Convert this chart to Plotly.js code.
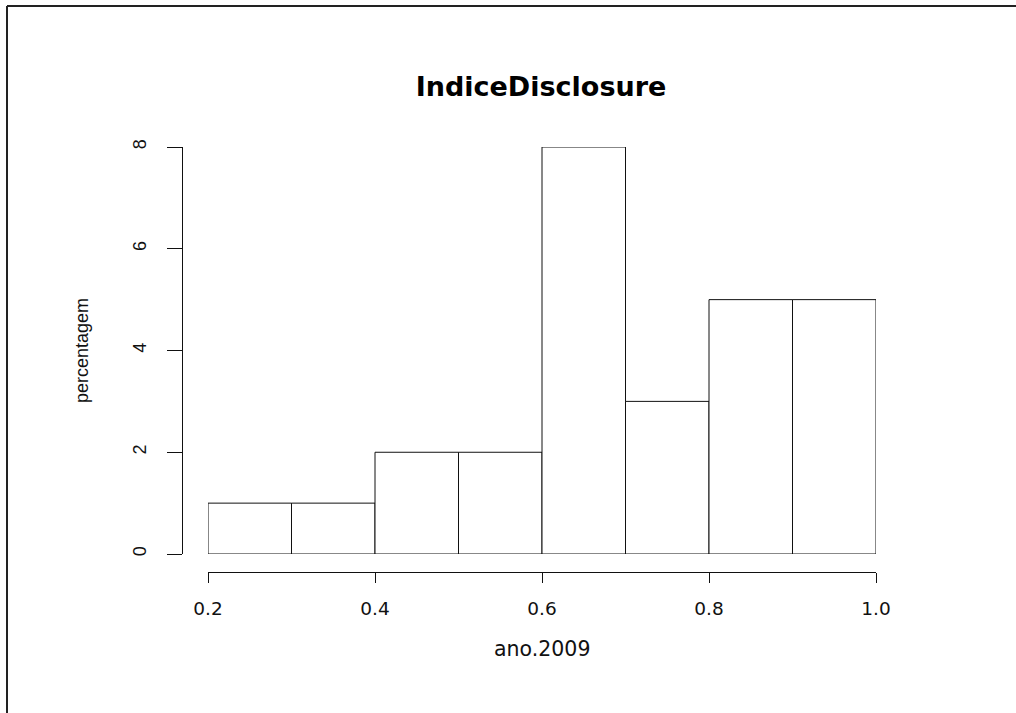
<!DOCTYPE html>
<html>
<head>
<meta charset="utf-8">
<script src="https://cdn.plot.ly/plotly-3.0.1.min.js"></script>
<style>html,body{margin:0;padding:0;background:#fff;}#chart{width:1016px;height:713px;}</style>
</head>
<body>
<div id="chart"></div>
<script>
// Histogram data
var binEdges = [0.2, 0.3, 0.4, 0.5, 0.6, 0.7, 0.8, 0.9, 1.0];
var counts = [1, 1, 2, 2, 8, 3, 5, 5];
var xTickVals = [0.2, 0.4, 0.6, 0.8, 1.0];
var xTickText = ["0.2", "0.4", "0.6", "0.8", "1.0"];
var yTickVals = [0, 2, 4, 6, 8];
var yTickText = ["0", "2", "4", "6", "8"];

var W = 1016, H = 713;
var lefts = binEdges.slice(0, -1);
var widths = lefts.map(function (e, i) { return binEdges[i + 1] - e; });

var trace = {
  type: 'bar',
  x: lefts,
  y: counts,
  width: widths,
  offset: 0,
  marker: { color: '#ffffff', line: { color: '#111', width: 1 } },
  hoverinfo: 'x+y'
};

var tickFontH = { family: 'DejaVu Sans, sans-serif', size: 18.5, color: '#111' };
var tickFontV = { family: 'Liberation Sans, Arial, sans-serif', size: 18, color: '#111' };

var layout = {
  width: W, height: H,
  margin: { l: 0, r: 0, t: 0, b: 0, pad: 0 },
  paper_bgcolor: '#fff', plot_bgcolor: 'rgba(0,0,0,0)',
  showlegend: false,
  bargap: 0,
  title: {
    text: 'IndiceDisclosure',
    font: { family: 'DejaVu Sans, sans-serif', size: 27, color: '#000', weight: 'bold' },
    x: 541 / W, xanchor: 'center', xref: 'paper',
    y: (H - 87) / H, yanchor: 'middle', yref: 'container'
  },
  xaxis: {
    domain: [208 / W, 876 / W],
    range: [0.2, 1.0],
    anchor: 'free', position: (H - 572) / H,
    showgrid: false, zeroline: false,
    showline: true, linecolor: '#111', linewidth: 1,
    ticks: 'outside', ticklen: 10, tickwidth: 1, tickcolor: '#111',
    tickmode: 'array', tickvals: xTickVals, ticktext: xTickText,
    tickfont: tickFontH, ticklabelstandoff: 10,
    fixedrange: true
  },
  yaxis: {
    domain: [(H - 554) / H, (H - 147) / H],
    range: [0, 8],
    anchor: 'free', position: 182 / W,
    showgrid: false, zeroline: false,
    showline: true, linecolor: '#111', linewidth: 1,
    ticks: 'outside', ticklen: 15, tickwidth: 1, tickcolor: '#111',
    tickmode: 'array', tickvals: yTickVals, ticktext: yTickText,
    tickangle: -90,
    tickfont: tickFontV, ticklabelstandoff: 14,
    fixedrange: true
  },
  annotations: [
    {
      text: 'ano.2009', showarrow: false,
      xref: 'paper', yref: 'paper',
      x: 542 / W, y: (H - 649) / H, xanchor: 'center', yanchor: 'middle',
      font: { family: 'DejaVu Sans, sans-serif', size: 20.5, color: '#111' }
    },
    {
      text: 'percentagem', showarrow: false, textangle: -90,
      xref: 'paper', yref: 'paper',
      x: 82 / W, y: (H - 351) / H, xanchor: 'center', yanchor: 'middle',
      font: { family: 'Liberation Sans, Arial, sans-serif', size: 18, color: '#111' }
    }
  ],
  shapes: [
    { type: 'line', xref: 'paper', yref: 'paper', x0: 7 / W, x1: 7 / W, y0: 0, y1: (H - 6) / H,
      line: { color: '#222', width: 2 } },
    { type: 'line', xref: 'paper', yref: 'paper', x0: 7 / W, x1: 1, y0: (H - 6) / H, y1: (H - 6) / H,
      line: { color: '#222', width: 2 } }
  ]
};

Plotly.newPlot('chart', [trace], layout, { displayModeBar: false, staticPlot: true });
</script>
</body>
</html>
